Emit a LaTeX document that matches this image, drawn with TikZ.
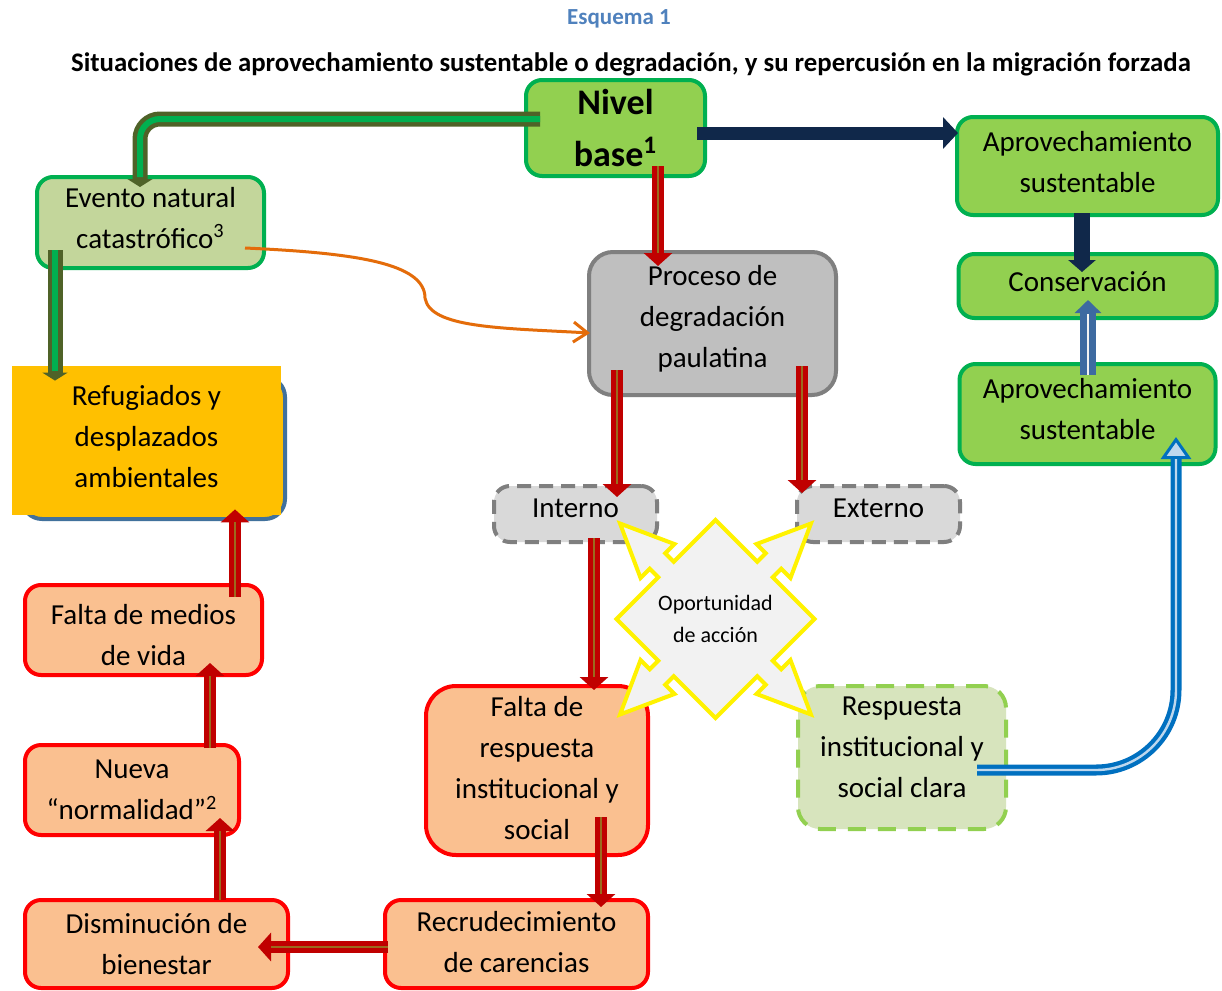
\documentclass[tikz,border=0pt]{standalone}
\usepackage{fontspec}
\setmainfont{Carlito}
\usetikzlibrary{arrows.meta,positioning}

\definecolor{leafgreen}{HTML}{92D050}
\definecolor{edgegreen}{HTML}{00B050}
\definecolor{palegreen}{HTML}{C3D69B}
\definecolor{mistgreen}{HTML}{D7E4BD}
\definecolor{midgray}{HTML}{BFBFBF}
\definecolor{lightgray}{HTML}{D9D9D9}
\definecolor{edgegray}{HTML}{7F7F7F}
\definecolor{peach}{HTML}{FAC090}
\definecolor{amber}{HTML}{FFC000}
\definecolor{slateblue}{HTML}{41719C}
\definecolor{darkred}{HTML}{C00000}
\definecolor{rust}{HTML}{9C6A1E}
\definecolor{deepnavy}{HTML}{10284A}
\definecolor{olive}{HTML}{4F6228}
\definecolor{steel}{HTML}{3D6AA1}
\definecolor{ocean}{HTML}{0070C0}
\definecolor{skyline}{HTML}{BDD7EE}
\definecolor{carrot}{HTML}{E46C0A}
\definecolor{titleblue}{HTML}{4F81BD}
\definecolor{cloud}{HTML}{F2F2F2}

\newcommand{\bodyfont}{\fontsize{14.5}{20.5}\selectfont}
\newcommand{\lowstrut}[1]{\rule[-#1]{0pt}{#1}}

\begin{document}
\begin{tikzpicture}[x=0.5pt,y=0.5pt,
    every node/.style={align=center,inner sep=0pt},
    box/.style={rectangle,rounded corners=8pt,line width=2pt,font=\bodyfont},
    greenbox/.style={box,fill=leafgreen,draw=edgegreen},
    peachbox/.style={box,fill=peach,draw=red},
    graybox/.style={box,fill=lightgray,draw=edgegray,dash pattern=on 7pt off 4pt},
    redarrow/.style={draw=darkred,line width=6pt,-{Triangle[width=14pt,length=6.5pt]},
                     postaction={draw=rust,line width=0.8pt,-,shorten >=6.5pt}},
    greenarrow/.style={draw=olive,line width=7.5pt,-{Triangle[width=12.5pt,length=4pt]},
                       postaction={draw=edgegreen,line width=3pt,-,shorten >=5pt}},
    navyarrow/.style={draw=deepnavy,line width=6.5pt,-{Triangle[width=15.5pt,length=7.5pt]}},
    steelarrow/.style={draw=steel,line width=8pt,-{Triangle[width=13pt,length=6.5pt]},
                       postaction={draw=cloud,line width=0.8pt,-,shorten >=7pt}},
    bluepipe/.style={draw=ocean,line width=5.5pt,
                     -{Triangle[width=15pt,length=11pt,fill=skyline,line width=1.5pt]},
                     postaction={draw=skyline,line width=1.2pt,-,shorten >=11pt}},
  ]
  \useasboundingbox[fill=white] (0,0) rectangle (1222,-991);

  % title
  \node[font=\fontsize{11.5}{14}\selectfont\bfseries,text=titleblue] (esquema) at (619,-19) {Esquema 1};
  \node[font=\fontsize{13.4}{16}\selectfont\bfseries] (titulo) at (631,-64)
    {Situaciones de aprovechamiento sustentable o degradación, y su repercusión en la migración forzada};

  % upper boxes
  \node[greenbox,font=\fontsize{18}{26}\selectfont\bfseries,minimum width=89.5pt,minimum height=48pt] (nivel) at (615.5,-128) {Nivel\\base\textsuperscript{1}};
  \node[greenbox,minimum width=130.5pt,minimum height=49pt] (aprov1) at (1087.5,-166) {Aprovechamiento\\sustentable\lowstrut{4pt}};
  \node[greenbox,minimum width=129pt,minimum height=32pt] (conserv) [below=17.5pt of aprov1] {Conservación\lowstrut{4pt}};
  \node[greenbox,minimum width=128pt,minimum height=50pt] (aprov2) [below=21pt of conserv] {Aprovechamiento\\sustentable\lowstrut{5pt}};
  \node[box,fill=palegreen,draw=edgegreen,minimum width=113.5pt,minimum height=45.5pt] (evento) at (150.5,-222.5) {Evento natural\\catastrófico\textsuperscript{3}\lowstrut{5pt}};
  \node[box,rounded corners=12pt,fill=midgray,draw=edgegray,minimum width=123.5pt,minimum height=71.5pt] (proceso) at (712.5,-323.5) {Proceso de\\degradación\\paulatina\lowstrut{6.7pt}};

  % refugiados
  \node[box,rounded corners=10pt,fill=amber,draw=slateblue,minimum width=131.5pt,minimum height=71pt] (refugback) at (153.5,-448) {};
  \node[rectangle,fill=amber,font=\bodyfont,minimum width=134.5pt,minimum height=74.5pt] (refug) at (146.5,-440.5) {Refugiados y\\desplazados\\ambientales\lowstrut{4.5pt}};

  % middle boxes
  \node[graybox,minimum width=81.5pt,minimum height=28pt] (interno) at (575.5,-514) {Interno\lowstrut{5.5pt}};
  \node[graybox,minimum width=81.5pt,minimum height=28pt] (externo) [right=68pt of interno] {Externo\lowstrut{5.5pt}};
  \node[box,rounded corners=11pt,fill=mistgreen,draw=leafgreen,dash pattern=on 9pt off 6pt,minimum width=104pt,minimum height=71.5pt] (respuesta) at (902,-757.5) {Respuesta\\institucional y\\social clara\lowstrut{10pt}};
  \node[peachbox,rounded corners=15pt,minimum width=111pt,minimum height=84.5pt] (faltaresp) at (537,-770.5) {Falta de\\respuesta\\institucional y\\social\lowstrut{3pt}};

  % left column
  \node[peachbox,minimum width=118.5pt,minimum height=45pt] (medios) at (143.5,-630) {\rule{0pt}{15.5pt}Falta de medios\\de vida};
  \node[peachbox,minimum width=107pt,minimum height=45pt] (nueva) [below right=33pt and 0pt of medios.south west] {Nueva\\“normalidad”\textsuperscript{2}};
  \node[peachbox,minimum width=131.5pt,minimum height=44pt] (dismin) [below right=30.5pt and 0pt of nueva.south west] {Disminución de\\bienestar};
  \node[peachbox,minimum width=131.5pt,minimum height=44pt] (recrud) [right=46.5pt of dismin] {Recrudecimiento\\de carencias\lowstrut{2pt}};

  % oportunidad de accion
  \coordinate (oportc) at (715.5,-619);
  \begin{scope}[shift={(oportc)},rotate=45]
    \draw[draw=yellow,fill=cloud,line width=2pt]
      (70,-70) -- (70,-11) -- (82,-11) -- (82,-24) -- (135,0) -- (82,24) -- (82,11) -- (70,11)
      -- (70,70) -- (11,70) -- (11,82) -- (24,82) -- (0,135) -- (-24,82) -- (-11,82) -- (-11,70)
      -- (-70,70) -- (-70,11) -- (-82,11) -- (-82,24) -- (-135,0) -- (-82,-24) -- (-82,-11) -- (-70,-11)
      -- (-70,-70) -- (-11,-70) -- (-11,-82) -- (-24,-82) -- (0,-135) -- (24,-82) -- (11,-82) -- (11,-70) -- cycle;
  \end{scope}
  \node[font=\fontsize{11}{16}\selectfont] (oport) at (oportc) {Oportunidad\\de acción};

  % connectors
  \draw[greenarrow,rounded corners=10pt] ([xshift=8pt,yshift=4.5pt]nivel.west) -| ([xshift=-5.25pt,yshift=-6pt]evento.north);
  \draw[greenarrow] ([xshift=-47.75pt,yshift=10pt]evento.south) -- ([xshift=-45.75pt,yshift=-7.5pt]refug.north);
  \draw[navyarrow] ([xshift=-5pt,yshift=-2.5pt]nivel.east) -- ([xshift=1.5pt,yshift=16.5pt]aprov1.west);
  \draw[navyarrow,line width=8pt,-{Triangle[width=13.5pt,length=6pt]}] ([xshift=-2.75pt,yshift=2pt]aprov1.south) -- ([xshift=-2.75pt,yshift=-10pt]conserv.north);
  \draw[steelarrow] ([xshift=0.25pt,yshift=-6.5pt]aprov2.north) -- ([xshift=0.25pt,yshift=10pt]conserv.south);
  \draw[bluepipe,rounded corners=40pt] ([xshift=-15.5pt,yshift=-6.25pt]respuesta.east) -| ([xshift=44.25pt,yshift=14.5pt]aprov2.south);
  \draw[carrot,line width=1.5pt,-{Straight Barb[length=7pt,width=10pt]}]
    ([xshift=-10.5pt,yshift=-12.75pt]evento.east) .. controls +(110,-5) and +(0,35) .. (425,-298)
    .. controls +(5,-30) and +(-90,5) .. ([xshift=1.5pt,yshift=-4.75pt]proceso.west);
  \draw[redarrow] ([xshift=21.25pt,yshift=6pt]nivel.south) -- ([xshift=-27.25pt,yshift=-8pt]proceso.north);
  \draw[redarrow] ([xshift=-47.75pt,yshift=13.5pt]proceso.south) -- ([xshift=20.75pt,yshift=-6.5pt]interno.north);
  \draw[redarrow] ([xshift=44.75pt,yshift=15.5pt]proceso.south) -- ([xshift=-38.25pt,yshift=-4.5pt]externo.north);
  \draw[redarrow] ([xshift=9.25pt,yshift=3pt]interno.south) -- ([xshift=28.5pt,yshift=-3pt]faltaresp.north);
  \draw[redarrow] ([xshift=32pt,yshift=20pt]faltaresp.south) -- ([xshift=42.25pt,yshift=-4.5pt]recrud.north);
  \draw[redarrow] ([xshift=2.5pt,yshift=-1.5pt]recrud.west) -- ([xshift=-16pt,yshift=-1.5pt]dismin.east);
  \draw[redarrow] ([xshift=31.75pt,yshift=-1pt]dismin.north) -- ([xshift=44pt,yshift=9.5pt]nueva.south);
  \draw[redarrow] ([xshift=39pt,yshift=-2.5pt]nueva.north) -- ([xshift=33.25pt,yshift=7pt]medios.south);
  \draw[redarrow] ([xshift=45.75pt,yshift=-7pt]medios.north) -- ([xshift=44.25pt,yshift=3pt]refug.south);
\end{tikzpicture}
\end{document}
